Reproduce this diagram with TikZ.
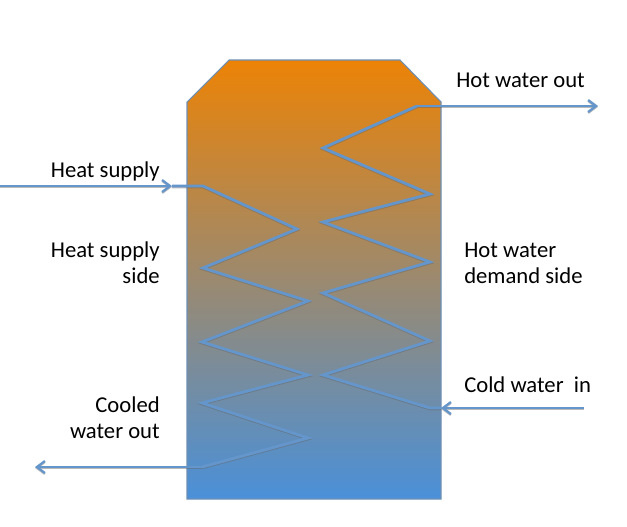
\documentclass[tikz,border=0pt]{standalone}
\usepackage{fontspec}
\setmainfont{Carlito}
\usetikzlibrary{arrows.meta,calc}
\definecolor{tanktop}{HTML}{EC8306}
\definecolor{tankmid}{HTML}{A5826D}
\definecolor{tankbot}{HTML}{4A90D9}
\definecolor{coilblue}{HTML}{6596CB}
\tikzset{
  tank schemes/.style = {
    x=0.75pt, y=-0.75pt,
    % Бак и змеевик
    tank body/.style  = {draw=coilblue!70!gray, line width=0.8pt,
      top color=tanktop, middle color=tankmid, bottom color=tankbot},
    coil line/.style  = {draw=coilblue, line width=2.1pt, line join=miter,
      preaction={draw=black!60, opacity=0.45, line width=2.1pt, transform canvas={yshift=-0.7pt}}},
    pipe arrow/.style = {coil line, -{Straight Barb[length=6pt,width=9pt,line width=1.7pt]}},
    % Надписи
    lbl/.style = {inner sep=0pt, font=\fontsize{17}{19.5}\selectfont, text=black},
    lbl left/.style  = {lbl, anchor=base east, align=right},
    lbl right/.style = {lbl, anchor=base west, align=left},
  }
}
\begin{document}
\begin{tikzpicture}[tank schemes]
\useasboundingbox (0,0) rectangle (627,526);

\shade[tank body] (187,102) -- (229,60) -- (400,60) -- (441,102) -- (441,499) -- (187,499) -- cycle;

% heat supply side
\foreach \n/\x/\y in {1/203/186,2/297/229,3/203/268,4/308/301,5/202/342,
                      6/308/375,7/202/403,8/308/438,9/202/467}
  \coordinate (hs-\n) at (\x,\y);
% demand side
\foreach \n/\x/\y in {1/430/408,2/323/375,3/430/341,4/323/293,5/430/262,
                      6/323/222,7/430/194,8/323/148,9/417/106}
  \coordinate (hw-\n) at (\x,\y);

\coordinate (heatsrc) at (0,186);
\coordinate (heatend) at (172,186);
\coordinate (coolend) at (35,467);
\coordinate (coldsrc) at (584,408);
\coordinate (coldend) at (441,408);
\coordinate (hotend)  at (598,106);

\draw[pipe arrow] (heatsrc) -- (heatend);
\draw[coil line] (heatend) -- (hs-1) -- (hs-2) -- (hs-3) -- (hs-4) -- (hs-5)
	-- (hs-6) -- (hs-7) -- (hs-8) -- (hs-9);
\draw[pipe arrow] (hs-9) -- (coolend);

\draw[pipe arrow] (coldsrc) -- (coldend);
\draw[coil line] (coldend) -- (hw-1) -- (hw-2) -- (hw-3) -- (hw-4) -- (hw-5)
	-- (hw-6) -- (hw-7) -- (hw-8) -- (hw-9);
\draw[pipe arrow] (hw-9) -- (hotend);

\node[lbl left]  (heatsupply) at (160,177) {Heat supply};
\node[lbl left]  (heatside)   at (160,283) {Heat supply\\side};
\node[lbl left]  (cooled)     at (160,438) {Cooled\\water out};
\node[lbl right] (hotout)     at (456,87)  {Hot water out};
\node[lbl right] (hotside)    at (464,283) {Hot water\\demand side};
\node[lbl right] (coldin)     at (464,392) {Cold water\ \ in};
\end{tikzpicture}
\end{document}
